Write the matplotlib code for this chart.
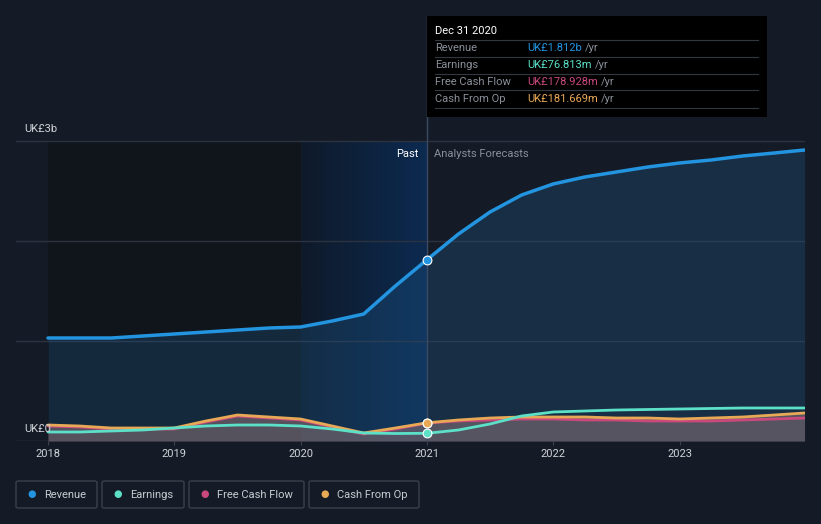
import numpy as np
import matplotlib.pyplot as plt
from matplotlib.patches import Rectangle, FancyBboxPatch
from matplotlib.colors import LinearSegmentedColormap

plt.rcParams['font.family'] = ['Roboto', 'DejaVu Sans']

# data (UK£ billions), quarterly
years = [2018.0, 2018.25, 2018.5, 2018.75, 2019.0, 2019.25, 2019.5, 2019.75,
         2020.0, 2020.25, 2020.5, 2020.75, 2021.0, 2021.25, 2021.5, 2021.75,
         2022.0, 2022.25, 2022.5, 2022.75, 2023.0, 2023.25, 2023.5, 2023.75, 2023.99]
revenue = [1.03, 1.03, 1.03, 1.05, 1.07, 1.09, 1.11, 1.13,
           1.14, 1.20, 1.27, 1.55, 1.812, 2.07, 2.29, 2.46,
           2.57, 2.64, 2.69, 2.74, 2.78, 2.81, 2.85, 2.88, 2.91]
earnings = [0.09, 0.09, 0.10, 0.11, 0.13, 0.15, 0.16, 0.16,
            0.15, 0.12, 0.08, 0.075, 0.077, 0.11, 0.17, 0.25,
            0.29, 0.30, 0.31, 0.315, 0.32, 0.325, 0.33, 0.33, 0.33]
fcf = [0.15, 0.14, 0.12, 0.12, 0.12, 0.19, 0.25, 0.23,
       0.21, 0.14, 0.07, 0.12, 0.179, 0.20, 0.21, 0.22,
       0.22, 0.21, 0.21, 0.20, 0.20, 0.20, 0.21, 0.22, 0.23]
cfo = [0.16, 0.15, 0.13, 0.13, 0.13, 0.20, 0.26, 0.24,
       0.22, 0.15, 0.08, 0.13, 0.182, 0.21, 0.23, 0.24,
       0.24, 0.24, 0.23, 0.23, 0.22, 0.23, 0.24, 0.26, 0.28]

bg = '#151b26'
c_rev = '#2394df'
c_earn = '#5ce0c8'
c_fcf = '#c9497d'
c_cfo = '#e8a956'

W, H = 821, 524
fig = plt.figure(figsize=(W / 100, H / 100), dpi=100, facecolor=bg)

def fx(px):
    return px / W

def fy(py):
    return 1 - py / H

# axes: x 16..805 px, y 16..441 px
ax = fig.add_axes([fx(16), fy(441), fx(805 - 16), (441 - 16) / H])
ax.set_facecolor(bg)
ppy = 126.3
ax.set_xlim(2018 - 32 / ppy, 2018 + 757 / ppy)
ax.set_ylim(0, 3 * 425 / 300)
for s in ax.spines.values():
    s.set_visible(False)

# past shading
ax.fill_between([2018, 2020], 0, 3, color='#10141b', zorder=0)
grad = LinearSegmentedColormap.from_list('g', ['#0f1a2a', '#0c2a50'])
ax.imshow(np.linspace(0, 1, 100).reshape(1, -1), cmap=grad, aspect='auto',
          extent=[2020, 2021, 0, 3], zorder=0.5)

# gridlines
for g in [1, 2, 3]:
    ax.axhline(g, color='#2c3340', lw=1, zorder=1)
ax.axhline(0, color='#3a404c', lw=1, zorder=1)

# fills
ax.fill_between(years, 0, revenue, color='#1f5a8a', alpha=0.3, lw=0, zorder=2)
ax.fill_between(years, 0, cfo, color='#8a4a5a', alpha=0.35, lw=0, zorder=2)
low = np.minimum(np.maximum(earnings, fcf), cfo)
ax.fill_between(years, 0, low, color='#6a6c72', alpha=0.55, lw=0, zorder=2)

kw = dict(solid_joinstyle='round', solid_capstyle='round', zorder=4)
ax.plot(years, revenue, color=c_rev, lw=2.5, **kw)
ax.plot(years, fcf, color=c_fcf, lw=2, **kw)
ax.plot(years, cfo, color=c_cfo, lw=2, **kw)
ax.plot(years, earnings, color=c_earn, lw=2, **kw)

# marker dots at the tooltip date
i = years.index(2021.0)
for vals, c in [(revenue, c_rev), (fcf, c_fcf), (cfo, c_cfo), (earnings, c_earn)]:
    ax.scatter([2021], [vals[i]], s=40, color=c, edgecolor='white', lw=0.8, zorder=6)

ax.axvline(2021, color='#3a4a60', lw=1, zorder=3)

ax.text(2021 - 0.07, 2.87, 'Past', color='white', fontsize=8, ha='right', va='center', zorder=7)
ax.text(2021 + 0.06, 2.87, 'Analysts Forecasts', color='#8a8f99', fontsize=8, ha='left', va='center', zorder=7)

ax.set_xticks([2018, 2019, 2020, 2021, 2022, 2023])
ax.set_xticklabels(['2018', '2019', '2020', '2021', '2022', '2023'])
ax.tick_params(axis='x', colors='#3a404c', labelcolor='#d0d3d8', labelsize=8, length=3, pad=3)
ax.set_yticks([])

fig.text(fx(24), fy(129), 'UK£3b', color='#d0d3d8', fontsize=8, va='center')
fig.text(fx(24), fy(429), 'UK£0', color='#d0d3d8', fontsize=8, va='center', zorder=10)

# tooltip
fig.patches.append(Rectangle((fx(427), fy(117)), fx(340), 101 / H, transform=fig.transFigure,
                             facecolor='black', edgecolor='none', zorder=20))
fig.text(fx(435), fy(31), 'Dec 31 2020', color='white', fontsize=8, va='center', zorder=21)
rows = [('Revenue', 'UK£1.812b', c_rev), ('Earnings', 'UK£76.813m', c_earn),
        ('Free Cash Flow', 'UK£178.928m', c_fcf), ('Cash From Op', 'UK£181.669m', c_cfo)]
for k, (lab, val, c) in enumerate(rows):
    yy = 48 + 17 * k
    fig.lines.append(plt.Line2D([fx(435), fx(758)], [fy(yy - 8.5)] * 2, color='#333840', lw=0.8,
                                transform=fig.transFigure, zorder=21))
    fig.text(fx(435), fy(yy), lab, color='#8a8f99', fontsize=8, va='center', zorder=21)
    t = fig.text(fx(527), fy(yy), val, color=c, fontsize=8, va='center', zorder=21)
    fig.canvas.draw()
    bb = t.get_window_extent()
    fig.text(bb.x1 / W + fx(3), fy(yy), '/yr', color='#8a8f99', fontsize=8, va='center', zorder=21)
fig.lines.append(plt.Line2D([fx(435), fx(758)], [fy(108)] * 2, color='#333840', lw=0.8,
                            transform=fig.transFigure, zorder=21))

# legend
legend = [('Revenue', c_rev, 16, 97), ('Earnings', c_earn, 102, 184),
          ('Free Cash Flow', c_fcf, 189, 304), ('Cash From Op', c_cfo, 309, 419)]
for lab, c, x0, x1 in legend:
    fig.patches.append(FancyBboxPatch((fx(x0), fy(508)), fx(x1 - x0), 27 / H,
                                      boxstyle='round,pad=0,rounding_size=0.003',
                                      transform=fig.transFigure, facecolor='none',
                                      edgecolor='#3a404c', lw=1))
    fig.text(fx(x0 + 16), fy(494.5), '●', color=c, fontsize=7, ha='center', va='center')
    fig.text(fx(x0 + 28), fy(494.5), lab, color='#c8ccd2', fontsize=8, va='center')

fig.savefig('out.png', dpi=100, facecolor=bg)
